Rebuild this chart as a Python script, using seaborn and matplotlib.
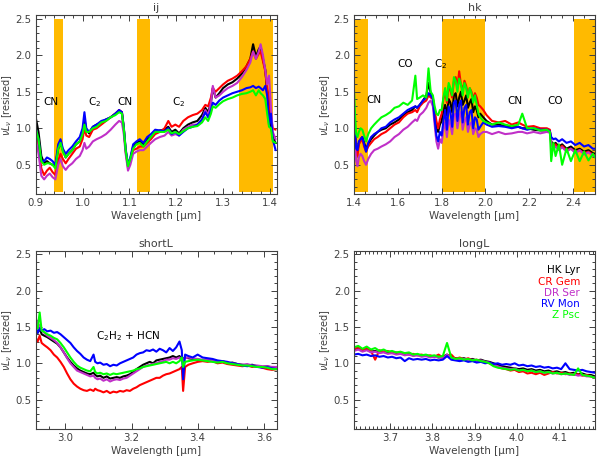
import matplotlib
matplotlib.use("Agg")
import matplotlib.pyplot as plt
import seaborn as sns
import pandas as pd
from matplotlib.ticker import MultipleLocator

stars = ["HK Lyr", "CR Gem", "DR Ser", "RV Mon", "Z Psc"]
colors = ["#000000", "#FF0000", "#C030C8", "#0000FF", "#00FF00"]

# ---------------- ij ----------------
wl_ij = [0.900, 0.906, 0.912, 0.918, 0.924, 0.930, 0.936, 0.942, 0.948, 0.953,
         0.958, 0.964, 0.970, 0.978, 0.986, 0.994, 1.000, 1.004, 1.008, 1.014,
         1.022, 1.030, 1.040, 1.050, 1.060, 1.070, 1.078, 1.084, 1.088, 1.092,
         1.097, 1.102, 1.108, 1.115, 1.122, 1.130, 1.138, 1.146, 1.155, 1.165,
         1.175, 1.183, 1.190, 1.198, 1.206, 1.215, 1.225, 1.235, 1.245, 1.255,
         1.262, 1.268, 1.274, 1.278, 1.284, 1.292, 1.300, 1.310, 1.320, 1.330,
         1.340, 1.350, 1.358, 1.364, 1.370, 1.376, 1.380, 1.385, 1.390, 1.394,
         1.398, 1.402, 1.406, 1.412]
ij_hklyr = [1.15, 0.95, 0.62, 0.52, 0.55, 0.52, 0.50, 0.48, 0.72, 0.80,
            0.70, 0.60, 0.65, 0.70, 0.78, 0.82, 0.92, 1.12, 0.98, 0.93,
            1.02, 1.05, 1.08, 1.12, 1.15, 1.20, 1.24, 1.22, 1.00, 0.70,
            0.48, 0.58, 0.75, 0.80, 0.82, 0.78, 0.85, 0.88, 0.95, 0.97,
            0.98, 1.02, 0.95, 0.98, 0.93, 1.00, 1.05, 1.08, 1.10, 1.18,
            1.28, 1.22, 1.35, 1.55, 1.42, 1.48, 1.55, 1.60, 1.63, 1.68,
            1.75, 1.85, 1.95, 2.15, 1.98, 2.08, 2.12, 1.95, 1.80, 1.50,
            1.35, 1.05, 0.88, 0.80]
ij_crgem = [0.95, 0.75, 0.45, 0.36, 0.42, 0.46, 0.40, 0.36, 0.55, 0.65,
            0.58, 0.52, 0.58, 0.65, 0.72, 0.75, 0.85, 1.00, 0.90, 0.88,
            0.98, 1.00, 1.05, 1.10, 1.15, 1.20, 1.25, 1.22, 1.00, 0.68,
            0.46, 0.55, 0.70, 0.72, 0.75, 0.75, 0.80, 0.85, 0.92, 0.95,
            1.00, 1.10, 1.02, 1.05, 1.02, 1.10, 1.15, 1.18, 1.20, 1.25,
            1.32, 1.30, 1.42, 1.55, 1.50, 1.55, 1.60, 1.65, 1.68, 1.72,
            1.78, 1.85, 1.95, 2.05, 1.95, 2.02, 2.05, 1.92, 1.78, 1.55,
            1.40, 1.15, 1.00, 0.98]
ij_drser = [0.85, 0.65, 0.35, 0.30, 0.35, 0.38, 0.33, 0.30, 0.50, 0.58,
            0.48, 0.43, 0.48, 0.52, 0.58, 0.62, 0.70, 0.80, 0.72, 0.75,
            0.82, 0.85, 0.88, 0.92, 0.98, 1.05, 1.10, 1.08, 0.92, 0.65,
            0.42, 0.50, 0.65, 0.68, 0.70, 0.70, 0.75, 0.80, 0.85, 0.88,
            0.90, 0.95, 0.90, 0.92, 0.90, 0.98, 1.02, 1.05, 1.05, 1.12,
            1.25, 1.18, 1.35, 1.58, 1.42, 1.45, 1.50, 1.55, 1.58, 1.62,
            1.70, 1.80, 1.90, 2.05, 1.95, 2.05, 2.15, 2.00, 1.80, 1.60,
            1.72, 1.30, 0.95, 0.85]
ij_rvmon = [1.00, 0.85, 0.55, 0.55, 0.60, 0.58, 0.55, 0.50, 0.78, 0.85,
            0.72, 0.65, 0.70, 0.75, 0.82, 0.88, 1.00, 1.22, 1.00, 0.95,
            1.02, 1.05, 1.10, 1.12, 1.15, 1.20, 1.25, 1.22, 1.02, 0.72,
            0.50, 0.60, 0.78, 0.82, 0.85, 0.80, 0.88, 0.92, 0.98, 0.97,
            0.96, 1.00, 0.92, 0.95, 0.90, 0.95, 1.00, 1.02, 1.05, 1.12,
            1.22, 1.15, 1.25, 1.35, 1.32, 1.38, 1.42, 1.45, 1.48, 1.50,
            1.52, 1.55, 1.56, 1.58, 1.55, 1.57, 1.55, 1.52, 1.58, 1.45,
            1.05, 1.20, 0.85, 0.70]
ij_zpsc = [1.00, 0.85, 0.55, 0.50, 0.52, 0.52, 0.50, 0.45, 0.72, 0.80,
           0.68, 0.60, 0.65, 0.70, 0.78, 0.82, 0.92, 1.05, 0.95, 0.95,
           1.00, 1.02, 1.08, 1.10, 1.15, 1.18, 1.22, 1.20, 1.00, 0.70,
           0.48, 0.58, 0.72, 0.78, 0.80, 0.75, 0.82, 0.88, 0.95, 0.95,
           0.95, 0.98, 0.93, 0.95, 0.92, 0.96, 1.00, 1.02, 1.03, 1.08,
           1.15, 1.10, 1.20, 1.30, 1.28, 1.33, 1.37, 1.40, 1.42, 1.45,
           1.47, 1.48, 1.50, 1.52, 1.45, 1.52, 1.48, 1.45, 1.40, 1.20,
           1.02, 1.00, 0.82, 0.80]

# ---------------- hk ----------------
wl_hk = [1.400, 1.405, 1.410, 1.416, 1.422, 1.430, 1.438, 1.446, 1.455, 1.465,
         1.478, 1.492, 1.508, 1.525, 1.545, 1.565, 1.585, 1.605, 1.625, 1.645,
         1.665, 1.680, 1.688, 1.700, 1.715, 1.730, 1.740, 1.750, 1.760, 1.768,
         1.776, 1.784, 1.792,
         1.800, 1.808, 1.816, 1.824, 1.832, 1.840, 1.848, 1.856, 1.864, 1.872,
         1.880, 1.888, 1.896, 1.904, 1.912, 1.920, 1.928, 1.936, 1.944, 1.952,
         1.960, 1.968, 1.976,
         1.990, 2.005, 2.030, 2.060, 2.090, 2.120, 2.150, 2.168, 2.190, 2.220,
         2.250, 2.280, 2.294, 2.300, 2.310, 2.320, 2.335, 2.350, 2.370, 2.390,
         2.410, 2.430, 2.450, 2.470, 2.490, 2.500]
hk_hklyr = [1.15, 0.95, 0.70, 0.68, 0.80, 0.85, 0.88, 0.80, 0.72, 0.78,
            0.85, 0.90, 0.95, 0.98, 1.00, 1.05, 1.08, 1.12, 1.18, 1.22,
            1.25, 1.30, 1.28, 1.32, 1.38, 1.45, 1.62, 1.48, 1.42, 1.20,
            1.00, 0.95, 1.05,
            1.10, 1.25, 1.32, 1.18, 1.40, 1.35, 1.22, 1.45, 1.48, 1.30,
            1.42, 1.50, 1.32, 1.38, 1.45, 1.28, 1.35, 1.40, 1.22, 1.30,
            1.25, 1.15, 1.20,
            1.15, 1.10, 1.05, 1.05, 1.03, 1.02, 1.02, 1.00, 1.00, 0.98,
            0.97, 0.97, 0.96, 0.82, 0.78, 0.80, 0.75, 0.78, 0.72, 0.75,
            0.70, 0.72, 0.68, 0.70, 0.66, 0.65]
hk_crgem = [1.10, 0.90, 0.65, 0.62, 0.78, 0.82, 0.85, 0.75, 0.68, 0.75,
            0.80, 0.85, 0.88, 0.92, 0.95, 1.00, 1.05, 1.08, 1.15, 1.20,
            1.22, 1.25, 1.22, 1.30, 1.35, 1.38, 1.45, 1.42, 1.40, 1.25,
            1.10, 1.00, 1.12,
            1.20, 1.40, 1.50, 1.35, 1.58, 1.52, 1.42, 1.65, 1.70, 1.55,
            1.78, 1.60, 1.52, 1.65, 1.58, 1.45, 1.55, 1.50, 1.40, 1.48,
            1.42, 1.32, 1.30,
            1.25, 1.18, 1.10, 1.08, 1.10, 1.05, 1.08, 1.05, 1.02, 1.03,
            1.00, 1.00, 0.98, 0.80, 0.75, 0.78, 0.72, 0.76, 0.70, 0.72,
            0.68, 0.70, 0.66, 0.68, 0.64, 0.63]
hk_drser = [0.95, 0.75, 0.55, 0.48, 0.60, 0.65, 0.62, 0.55, 0.50, 0.58,
            0.65, 0.70, 0.72, 0.75, 0.78, 0.82, 0.88, 0.92, 0.98, 1.02,
            1.08, 1.12, 1.10, 1.18, 1.22, 1.28, 1.35, 1.38, 1.30, 1.05,
            0.82, 0.72, 0.85,
            0.80, 0.98, 1.08, 0.88, 1.12, 1.05, 0.92, 1.18, 1.20, 1.00,
            1.15, 1.22, 0.98, 1.10, 1.15, 0.95, 1.05, 1.08, 0.92, 1.00,
            0.98, 0.88, 0.92,
            0.95, 0.95, 0.92, 0.95, 0.92, 0.93, 0.95, 0.95, 0.93, 0.95,
            0.93, 0.95, 0.94, 0.78, 0.72, 0.75, 0.70, 0.74, 0.68, 0.72,
            0.66, 0.70, 0.64, 0.67, 0.62, 0.62]
hk_rvmon = [1.10, 0.92, 0.72, 0.70, 0.82, 0.85, 0.88, 0.78, 0.68, 0.80,
            0.88, 0.92, 0.95, 1.00, 1.02, 1.08, 1.12, 1.15, 1.20, 1.25,
            1.28, 1.30, 1.28, 1.32, 1.38, 1.42, 1.48, 1.45, 1.40, 1.12,
            0.90, 0.82, 0.95,
            0.90, 1.10, 1.25, 0.98, 1.30, 1.22, 1.02, 1.35, 1.38, 1.10,
            1.32, 1.38, 1.08, 1.28, 1.32, 1.05, 1.22, 1.25, 1.00, 1.15,
            1.12, 0.98, 1.02,
            1.08, 1.05, 1.02, 1.03, 1.02, 1.00, 1.02, 1.00, 0.98, 1.00,
            0.98, 0.98, 0.96, 0.88, 0.85, 0.86, 0.82, 0.85, 0.80, 0.82,
            0.77, 0.80, 0.75, 0.77, 0.72, 0.72]
hk_zpsc = [1.52, 1.15, 0.92, 0.88, 0.95, 1.00, 0.98, 0.90, 0.82, 0.92,
           1.00, 1.05, 1.10, 1.15, 1.18, 1.22, 1.28, 1.30, 1.35, 1.32,
           1.38, 1.72, 1.40, 1.42, 1.45, 1.42, 1.82, 1.50, 1.45, 1.30,
           1.20, 1.18, 1.25,
           1.25, 1.42, 1.55, 1.38, 1.62, 1.55, 1.45, 1.70, 1.65, 1.50,
           1.68, 1.60, 1.45, 1.62, 1.55, 1.42, 1.55, 1.48, 1.35, 1.45,
           1.32, 1.20, 1.15,
           1.10, 1.08, 1.05, 1.08, 1.05, 1.03, 1.05, 1.20, 1.00, 1.00,
           0.97, 0.98, 0.95, 0.55, 0.80, 0.62, 0.78, 0.50, 0.72, 0.55,
           0.70, 0.55, 0.68, 0.56, 0.65, 0.60]

# ---------------- shortL ----------------
wl_sl = [2.910, 2.916, 2.922, 2.928, 2.936, 2.945, 2.955, 2.965, 2.975, 2.985,
         2.995, 3.005, 3.015, 3.025, 3.035, 3.045, 3.055, 3.065, 3.075, 3.085,
         3.090, 3.097, 3.105, 3.115, 3.125, 3.135, 3.145, 3.155, 3.165, 3.175,
         3.185, 3.195, 3.205, 3.215, 3.225, 3.235, 3.245, 3.255, 3.265, 3.275,
         3.285, 3.295, 3.305, 3.315, 3.325, 3.335, 3.345, 3.352, 3.356, 3.362,
         3.372, 3.385, 3.400, 3.415, 3.430, 3.445, 3.460, 3.475, 3.490, 3.505,
         3.520, 3.535, 3.550, 3.565, 3.580, 3.595, 3.610, 3.625, 3.640]
sl_hklyr = [1.45, 1.42, 1.48, 1.40, 1.38, 1.36, 1.33, 1.30, 1.27, 1.22,
            1.15, 1.08, 1.02, 0.97, 0.93, 0.90, 0.88, 0.86, 0.85, 0.87,
            0.84, 0.82, 0.83, 0.80, 0.82, 0.79, 0.80, 0.81, 0.80, 0.82,
            0.83, 0.85, 0.88, 0.92, 0.95, 0.98, 1.00, 1.02, 1.00, 1.04,
            1.05, 1.06, 1.07, 1.08, 1.10, 1.08, 1.10, 1.05, 1.06, 1.08,
            1.07, 1.06, 1.05, 1.04, 1.05, 1.03, 1.02, 1.03, 1.00, 1.01,
            0.99, 0.98, 0.97, 0.98, 0.96, 0.95, 0.96, 0.94, 0.93]
sl_crgem = [1.35, 1.30, 1.38, 1.28, 1.25, 1.22, 1.18, 1.12, 1.08, 1.02,
            0.95, 0.86, 0.78, 0.72, 0.68, 0.65, 0.63, 0.62, 0.64, 0.62,
            0.65, 0.63, 0.62, 0.60, 0.62, 0.59, 0.61, 0.60, 0.62, 0.61,
            0.63, 0.62, 0.65, 0.67, 0.70, 0.72, 0.74, 0.76, 0.78, 0.80,
            0.80, 0.83, 0.85, 0.86, 0.88, 0.90, 0.92, 0.95, 0.62, 0.95,
            0.98, 1.00, 1.02, 1.03, 1.02, 1.03, 1.00, 1.01, 0.99, 0.98,
            0.97, 0.96, 0.97, 0.95, 0.96, 0.94, 0.92, 0.91, 0.92]
sl_drser = [1.62, 1.55, 1.52, 1.45, 1.42, 1.38, 1.35, 1.32, 1.28, 1.22,
            1.15, 1.07, 1.00, 0.95, 0.90, 0.88, 0.86, 0.84, 0.82, 0.83,
            0.80, 0.78, 0.79, 0.76, 0.78, 0.75, 0.77, 0.78, 0.77, 0.79,
            0.80, 0.83, 0.86, 0.89, 0.92, 0.95, 0.97, 0.98, 0.99, 1.00,
            1.02, 1.03, 1.05, 1.05, 1.07, 1.06, 1.08, 1.04, 1.05, 1.07,
            1.08, 1.07, 1.06, 1.05, 1.05, 1.04, 1.02, 1.03, 1.01, 1.00,
            0.99, 0.98, 0.99, 0.97, 0.97, 0.96, 0.96, 0.95, 0.95]
sl_rvmon = [1.50, 1.42, 1.48, 1.45, 1.47, 1.44, 1.45, 1.42, 1.43, 1.40,
            1.36, 1.32, 1.28, 1.22, 1.17, 1.13, 1.08, 1.05, 1.03, 1.12,
            1.02, 1.00, 1.01, 0.98, 0.99, 0.96, 0.98, 0.97, 1.00, 1.02,
            1.04, 1.06, 1.08, 1.12, 1.14, 1.15, 1.18, 1.17, 1.19, 1.16,
            1.20, 1.18, 1.15, 1.21, 1.17, 1.22, 1.30, 1.18, 0.78, 1.12,
            1.10, 1.08, 1.12, 1.08, 1.07, 1.06, 1.04, 1.03, 1.02, 1.00,
            0.99, 0.97, 0.96, 0.97, 0.95, 0.94, 0.95, 0.93, 0.92]
sl_zpsc = [1.52, 1.48, 1.70, 1.45, 1.43, 1.40, 1.38, 1.35, 1.33, 1.28,
           1.22, 1.15, 1.08, 1.02, 0.97, 0.94, 0.92, 0.90, 0.89, 0.95,
           0.88, 0.86, 0.87, 0.85, 0.86, 0.84, 0.86, 0.85, 0.86, 0.87,
           0.88, 0.89, 0.90, 0.92, 0.93, 0.95, 0.96, 0.97, 0.98, 0.99,
           1.00, 1.01, 1.02, 1.00, 1.02, 1.00, 1.03, 1.08, 0.95, 1.02,
           1.03, 1.04, 1.05, 1.04, 1.03, 1.02, 1.01, 1.02, 1.00, 0.99,
           0.98, 0.97, 0.97, 0.96, 0.95, 0.95, 0.94, 0.92, 0.92]

# ---------------- longL ----------------
wl_ll = [3.615, 3.625, 3.635, 3.645, 3.655, 3.665, 3.675, 3.685, 3.695, 3.705,
         3.715, 3.725, 3.735, 3.745, 3.755, 3.765, 3.775, 3.785, 3.795, 3.805,
         3.815, 3.825, 3.835, 3.845, 3.855, 3.865, 3.875, 3.885, 3.895, 3.905,
         3.915, 3.925, 3.935, 3.945, 3.955, 3.965, 3.975, 3.985, 3.995, 4.005,
         4.015, 4.025, 4.035, 4.045, 4.055, 4.065, 4.075, 4.085, 4.095, 4.105,
         4.115, 4.125, 4.135, 4.145, 4.155, 4.165, 4.175, 4.185]
ll_hklyr = [1.18, 1.20, 1.17, 1.19, 1.16, 1.17, 1.15, 1.16, 1.14, 1.15,
            1.13, 1.14, 1.12, 1.13, 1.11, 1.12, 1.10, 1.11, 1.09, 1.10,
            1.08, 1.09, 1.12, 1.08, 1.07, 1.06, 1.07, 1.05, 1.06, 1.04,
            1.05, 1.03, 1.02, 1.00, 0.98, 0.96, 0.95, 0.94, 0.93, 0.92,
            0.93, 0.91, 0.92, 0.90, 0.91, 0.89, 0.90, 0.88, 0.89, 0.87,
            0.88, 0.86, 0.87, 0.85, 0.86, 0.84, 0.84, 0.82]
ll_crgem = [1.20, 1.22, 1.18, 1.21, 1.17, 1.05, 1.18, 1.16, 1.17, 1.14,
            1.15, 1.13, 1.14, 1.12, 1.13, 1.11, 1.12, 1.10, 1.11, 1.09,
            1.12, 1.08, 1.10, 1.12, 1.06, 1.08, 1.05, 1.07, 1.04, 1.05,
            1.03, 1.02, 1.00, 0.97, 0.95, 0.93, 0.92, 0.90, 0.91, 0.88,
            0.89, 0.86, 0.87, 0.85, 0.87, 0.84, 0.86, 0.88, 0.86, 0.87,
            0.85, 0.86, 0.84, 0.85, 0.83, 0.84, 0.82, 0.80]
ll_drser = [1.17, 1.19, 1.16, 1.18, 1.15, 1.16, 1.14, 1.15, 1.13, 1.14,
            1.12, 1.13, 1.11, 1.12, 1.10, 1.11, 1.09, 1.10, 1.08, 1.09,
            1.08, 1.07, 1.12, 1.07, 1.06, 1.05, 1.06, 1.04, 1.05, 1.03,
            1.04, 1.02, 1.01, 0.98, 0.96, 0.94, 0.93, 0.92, 0.93, 0.90,
            0.91, 0.89, 0.90, 0.88, 0.89, 0.87, 0.88, 0.86, 0.87, 0.85,
            0.86, 0.84, 0.85, 0.83, 0.84, 0.82, 0.82, 0.80]
ll_rvmon = [1.12, 1.13, 1.11, 1.12, 1.10, 1.11, 1.09, 1.10, 1.08, 1.09,
            1.07, 1.08, 1.03, 1.07, 1.05, 1.06, 1.05, 1.06, 1.04, 1.05,
            1.04, 1.05, 1.10, 1.05, 1.04, 1.03, 1.04, 1.02, 1.03, 1.01,
            1.02, 1.00, 1.01, 0.99, 1.00, 0.98, 0.99, 0.98, 1.00, 0.97,
            0.98, 0.96, 0.97, 0.95, 0.96, 0.94, 0.95, 0.93, 0.94, 0.92,
            1.00, 0.92, 0.91, 0.90, 0.91, 0.89, 0.88, 0.87]
ll_zpsc = [1.22, 1.24, 1.20, 1.23, 1.19, 1.21, 1.17, 1.19, 1.16, 1.17,
           1.15, 1.16, 1.14, 1.15, 1.12, 1.13, 1.11, 1.12, 1.10, 1.11,
           1.09, 1.10, 1.28, 1.08, 1.06, 1.07, 1.05, 1.06, 1.04, 1.05,
           1.03, 1.02, 1.00, 0.96, 0.94, 0.93, 0.92, 0.91, 0.92, 0.90,
           0.91, 0.89, 0.90, 0.88, 0.89, 0.87, 0.88, 0.86, 0.87, 0.85,
           0.86, 0.85, 0.84, 0.93, 0.84, 0.83, 0.82, 0.80]

bands_ij = [(0.939, 0.958), (1.116, 1.145), (1.333, 1.406)]
bands_hk = [(1.405, 1.464), (1.800, 2.000), (2.405, 2.500)]

labels_ij = [("CN", 0.932, 1.36), ("C$_2$", 1.025, 1.36), ("CN", 1.09, 1.36), ("C$_2$", 1.205, 1.36)]
labels_hk = [("CN", 1.492, 1.38), ("CO", 1.632, 1.88), ("C$_2$", 1.793, 1.88), ("CN", 2.134, 1.37), ("CO", 2.32, 1.37)]
labels_sl = [("C$_2$H$_2$ + HCN", 3.19, 1.37)]

sns.set_style("ticks")
plt.rcParams["font.family"] = ["DejaVu Sans"]
plt.rcParams["mathtext.fontset"] = "dejavusans"

GRAY = "#404040"
fig = plt.figure(figsize=(5.98, 4.58), dpi=100)

panels = [
    ("ij", [0.0597, 0.5764, 0.4035, 0.3908], wl_ij, [ij_hklyr, ij_crgem, ij_drser, ij_rvmon, ij_zpsc],
     (0.9, 1.415), 0.1, 0.02, bands_ij, labels_ij),
    ("hk", [0.592, 0.5764, 0.403, 0.3908], wl_hk, [hk_hklyr, hk_crgem, hk_drser, hk_rvmon, hk_zpsc],
     (1.4, 2.5), 0.2, 0.05, bands_hk, labels_hk),
    ("shortL", [0.0597, 0.064, 0.4035, 0.3886], wl_sl, [sl_hklyr, sl_crgem, sl_drser, sl_rvmon, sl_zpsc],
     (2.91, 3.64), 0.2, 0.05, [], labels_sl),
    ("longL", [0.592, 0.064, 0.403, 0.3886], wl_ll, [ll_hklyr, ll_crgem, ll_drser, ll_rvmon, ll_zpsc],
     (3.615, 4.185), 0.1, 0.01, [], []),
]

for title, rect, wl, series, xlim, maj, mnr, bands, labels in panels:
    ax = fig.add_axes(rect)
    for x0, x1 in bands:
        ax.fill_between([x0, x1], 0.13, 2.5, color="#FFBA00", lw=0, zorder=0)
    rows = []
    for s, vals in zip(stars, series):
        for x, y in zip(wl, vals):
            rows.append((x, y, s))
    df = pd.DataFrame(rows, columns=["wl", "flux", "star"])
    sns.lineplot(data=df, x="wl", y="flux", hue="star", hue_order=stars,
                 palette=colors, estimator=None, sort=False, lw=1.5,
                 legend=False, ax=ax, zorder=2)
    for txt, x, y in labels:
        ax.text(x, y, txt, ha="center", va="center", fontsize=7.5, color="black", zorder=3)
    ax.set_xlim(*xlim)
    ax.set_ylim(0.1, 2.55)
    ax.xaxis.set_major_locator(MultipleLocator(maj))
    ax.xaxis.set_minor_locator(MultipleLocator(mnr))
    ax.yaxis.set_minor_locator(MultipleLocator(0.1))
    ax.set_yticks([0.5, 1.0, 1.5, 2.0, 2.5])
    ax.tick_params(which="both", direction="in", top=True, right=True,
                   colors=GRAY, labelsize=7.3, width=0.7, pad=3)
    ax.tick_params(which="major", length=4)
    ax.tick_params(which="minor", length=2)
    for sp in ax.spines.values():
        sp.set_color(GRAY)
        sp.set_linewidth(0.8)
    ax.set_title(title, fontsize=8, color=GRAY, pad=3)
    ax.set_xlabel("Wavelength [μm]", fontsize=7.5, color=GRAY, labelpad=2)
    ax.set_ylabel(r"$\nu L_\nu$ [resized]", fontsize=7, color=GRAY)
    ax.yaxis.set_label_coords(-0.092, 0.5)
    if title == "longL":
        for i, (s, c) in enumerate(zip(stars, colors)):
            ax.text(4.15, 2.28 - i * 0.155, s, ha="right", va="center",
                    fontsize=7.5, color=c)

fig.savefig("out.png", dpi=100)
